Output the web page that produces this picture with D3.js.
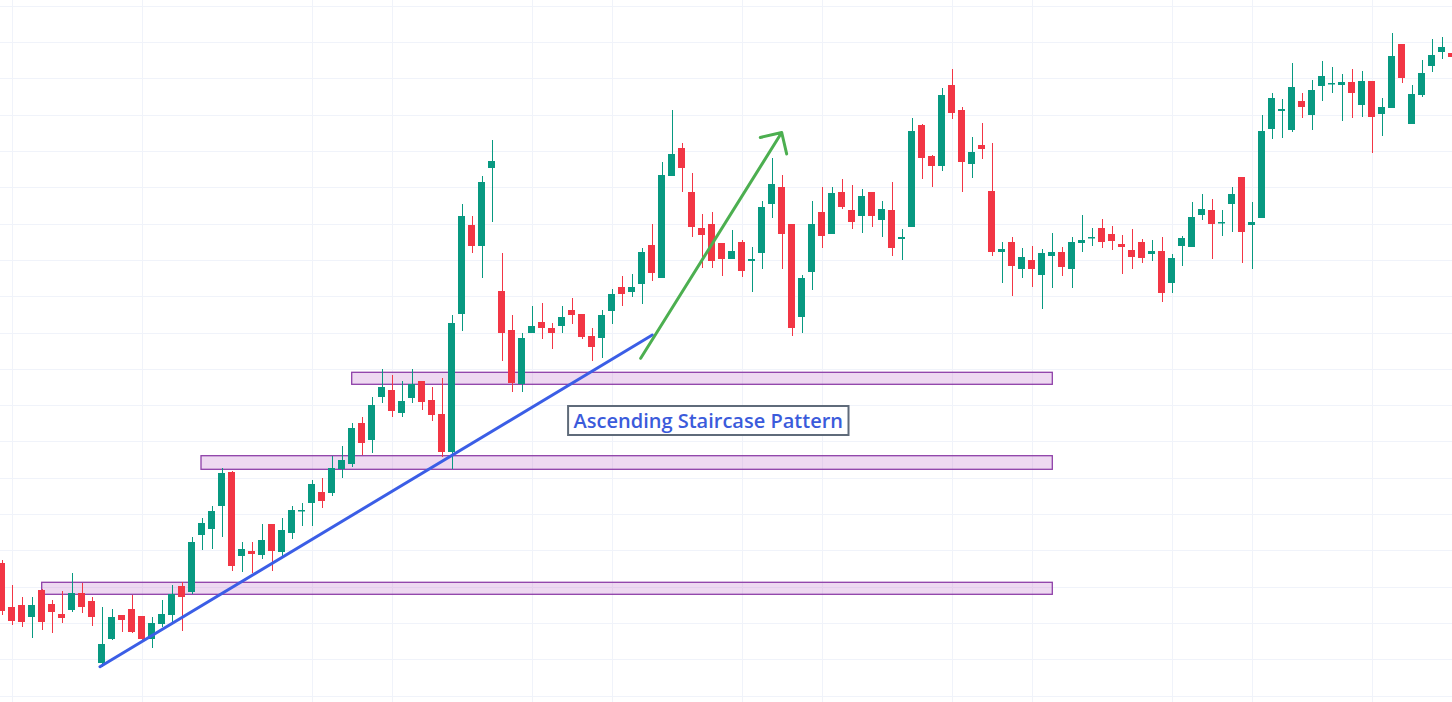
<!DOCTYPE html>
<html>
<head>
<meta charset="utf-8">
<script src="https://cdn.jsdelivr.net/npm/d3@7"></script>
<style>
	html, body { margin: 0; padding: 0; background: #ffffff; overflow: hidden; }
	svg { display: block; }
</style>
</head>
<body>
<svg id="chart" width="1452" height="702"></svg>
<script>
// Data (one value per candle, left to right)
const opens = [
	13.7, 9.3, 9.5, 8.3, 11.0, 9.6, 8.6, 9.0, 10.7, 9.9,
	3.7, 6.1, 8.5, 9.1, 8.4, 6.1, 7.6, 8.5, 11.4, 10.8,
	16.5, 17.1, 19.4, 22.8, 14.4, 14.9, 14.5, 17.6, 14.8, 16.7,
	18.9, 19.7, 20.8, 20.7, 23.1, 23.6, 27.7, 26.0, 30.3, 31.0,
	28.7, 30.2, 31.9, 30.0, 28.6, 24.8, 38.6, 47.5, 45.4, 53.2,
	40.9, 37.0, 31.6, 36.7, 37.8, 37.2, 37.4, 39.0, 38.6, 36.4,
	36.2, 38.9, 41.3, 40.8, 41.6, 45.5, 42.2, 52.4, 55.2, 50.8,
	47.2, 47.6, 45.7, 44.1, 45.8, 43.9, 44.7, 49.6, 51.3, 47.6,
	38.3, 42.8, 48.8, 46.6, 50.8, 49.0, 48.4, 50.8, 48.0, 49.0,
	46.1, 47.3, 57.5, 54.4, 53.4, 61.5, 59.0, 53.6, 55.5, 50.9,
	44.8, 45.8, 43.1, 44.0, 42.5, 44.4, 44.8, 43.1, 45.7, 46.2,
	47.2, 46.6, 45.6, 45.0, 45.8, 44.6, 44.9, 41.7, 45.4, 45.3,
	48.5, 49.0, 47.7, 49.6, 52.3, 47.5, 48.2, 57.1, 58.9, 57.0,
	59.9, 58.5, 61.4, 61.6, 61.5, 61.8, 59.5, 61.9, 58.6, 59.2,
	65.6, 57.6, 60.5, 63.4, 64.8, 64.7
];
const highs = [
	14.0, 11.5, 10.3, 10.3, 11.1, 10.0, 10.9, 12.7, 11.7, 10.3,
	9.3, 9.1, 8.5, 10.5, 8.4, 8.3, 10.0, 11.5, 11.8, 16.3,
	18.2, 19.4, 23.2, 22.9, 15.8, 15.8, 17.6, 17.6, 18.2, 19.4,
	19.7, 22.0, 22.2, 24.4, 25.4, 27.7, 28.3, 30.3, 33.1, 32.5,
	31.9, 33.1, 31.9, 31.3, 32.2, 38.5, 49.6, 48.4, 52.4, 56.0,
	44.7, 38.5, 36.7, 39.4, 39.7, 37.7, 39.4, 40.2, 38.6, 37.2,
	39.0, 41.1, 42.4, 42.6, 45.2, 47.6, 53.8, 59.0, 55.7, 52.7,
	48.6, 48.8, 45.7, 47.0, 46.0, 45.3, 49.9, 54.2, 52.5, 47.6,
	42.5, 49.9, 51.3, 51.3, 52.1, 51.5, 51.1, 50.8, 49.9, 51.8,
	47.1, 58.2, 57.6, 54.5, 61.2, 63.1, 59.3, 56.3, 57.7, 55.7,
	45.8, 46.3, 45.2, 45.4, 45.1, 46.7, 45.3, 46.3, 48.5, 47.2,
	48.1, 47.4, 46.5, 47.1, 46.1, 46.0, 46.3, 44.6, 46.4, 49.8,
	50.6, 50.1, 49.0, 51.3, 52.3, 49.8, 58.5, 60.7, 60.1, 63.7,
	60.7, 62.0, 63.9, 63.3, 62.6, 63.1, 62.9, 61.9, 60.2, 66.7,
	65.6, 61.5, 64.0, 66.1, 66.3, 64.8
];
const lows = [
	8.5, 7.5, 7.3, 6.2, 7.0, 6.7, 7.7, 8.8, 8.7, 7.4,
	3.3, 6.0, 6.8, 6.7, 6.0, 5.2, 7.3, 7.8, 6.9, 10.6,
	15.0, 15.1, 16.3, 12.9, 12.8, 12.7, 14.1, 12.9, 14.4, 16.1,
	17.4, 17.4, 19.2, 20.4, 22.2, 23.3, 24.5, 24.7, 29.7, 28.3,
	28.3, 29.7, 29.0, 27.9, 24.3, 23.1, 36.9, 44.7, 42.2, 47.8,
	33.9, 30.8, 30.8, 36.7, 36.1, 35.1, 36.7, 37.6, 36.1, 33.9,
	34.2, 37.6, 39.4, 40.3, 39.6, 41.9, 42.2, 52.4, 50.8, 46.3,
	43.2, 43.2, 42.4, 44.1, 42.3, 40.8, 43.1, 48.2, 43.1, 36.4,
	36.7, 41.0, 45.2, 46.6, 49.1, 47.1, 46.7, 47.3, 46.3, 44.4,
	44.0, 47.3, 52.1, 51.3, 52.9, 58.1, 50.8, 52.2, 54.1, 44.4,
	41.7, 40.4, 42.2, 41.3, 39.1, 41.2, 42.4, 41.2, 44.8, 45.4,
	45.2, 45.0, 42.6, 43.1, 43.7, 43.9, 39.8, 40.7, 43.4, 45.3,
	48.0, 44.1, 46.4, 46.8, 43.7, 43.1, 48.2, 56.1, 56.2, 56.8,
	58.2, 57.0, 59.9, 60.7, 57.9, 58.2, 58.3, 54.7, 56.4, 59.2,
	61.7, 57.6, 60.3, 62.8, 64.1, 64.2
];
const closes = [
	8.9, 7.9, 7.8, 9.5, 7.8, 8.8, 8.2, 10.7, 9.3, 8.3,
	5.6, 8.3, 8.0, 6.8, 6.1, 7.7, 8.6, 10.6, 10.3, 15.8,
	17.7, 18.9, 22.7, 13.4, 15.1, 14.6, 16.0, 14.9, 17.0, 19.0,
	19.0, 21.6, 19.9, 23.2, 24.0, 27.2, 25.7, 29.5, 31.3, 28.9,
	29.9, 31.6, 29.8, 28.5, 24.8, 37.7, 48.4, 45.4, 51.8, 53.9,
	36.7, 31.7, 36.2, 37.4, 37.2, 36.7, 38.3, 38.5, 36.3, 35.3,
	38.5, 40.6, 40.6, 41.3, 44.8, 42.7, 52.5, 54.6, 53.2, 47.3,
	46.5, 43.9, 44.1, 44.9, 42.9, 44.1, 49.3, 51.6, 46.6, 37.2,
	42.2, 47.6, 46.4, 50.7, 49.3, 47.8, 50.4, 48.4, 49.1, 45.2,
	46.3, 56.9, 54.2, 53.4, 60.5, 58.7, 53.8, 54.8, 55.1, 44.8,
	45.1, 43.4, 44.3, 43.1, 44.7, 44.8, 43.3, 45.8, 46.0, 46.3,
	45.8, 45.9, 45.3, 44.3, 44.2, 44.9, 40.7, 44.2, 46.2, 48.3,
	49.1, 47.6, 47.8, 50.6, 46.8, 47.8, 56.9, 60.2, 59.1, 61.3,
	59.3, 61.0, 62.4, 61.7, 61.8, 60.7, 61.9, 58.3, 59.3, 64.4,
	62.2, 60.6, 62.7, 64.5, 65.3, 64.3
];

// Grid (price levels and candle indexes where the grid lines fall)
const gridPrices = [0.45, 4.08, 7.71, 11.34, 14.97, 18.6, 22.23, 25.86, 29.49, 33.12,
	36.75, 40.38, 44.01, 47.64, 51.27, 54.9, 58.53, 62.16, 65.79, 69.42];
const gridIndexes = [1, 14, 31, 39, 53, 61, 74, 82, 95, 103, 117, 125, 137];

// Drawings
const zoneStart = [4.0, 19.93, 35.0];
const zoneEnd = [105.06, 105.06, 105.06];
const zoneLow = [10.57, 23.07, 31.57];
const zoneHigh = [11.77, 24.43, 32.77];
const trendLine = [[9.83, 3.33], [65.06, 36.5]];
const arrowLine = [[63.9, 34.17], [78.0, 56.75]];
const label = { text: "Ascending Staircase Pattern", index: 70.66, price: 27.95 };

const candles = opens.map((o, i) => ({
	i: i, o: o, h: highs[i], l: lows[i], c: closes[i]
}));

const width = 1452;
const height = 702;
const green = "#089981";
const red = "#f23645";

const svg = d3.select("#chart");

const x = d3.scaleLinear().domain([0, 145]).range([1.7, 1451.7]);
const y = d3.scaleLinear().domain([0, 70]).range([700, 0]);
const bodyW = (x(1) - x(0)) * 0.7;

// Grid
svg.append("g")
	.selectAll("line")
	.data(gridPrices)
	.join("line")
	.attr("x1", 0)
	.attr("x2", width)
	.attr("y1", d => Math.round(y(d)) + 0.5)
	.attr("y2", d => Math.round(y(d)) + 0.5)
	.style("stroke", "#f0f3fa")
	.style("stroke-width", 1);

svg.append("g")
	.selectAll("line")
	.data(gridIndexes)
	.join("line")
	.attr("x1", d => Math.round(x(d)) + 0.5)
	.attr("x2", d => Math.round(x(d)) + 0.5)
	.attr("y1", 0)
	.attr("y2", height)
	.style("stroke", "#f0f3fa")
	.style("stroke-width", 1);

// Zones
svg.append("g")
	.selectAll("rect")
	.data(zoneStart)
	.join("rect")
	.attr("x", (d, i) => x(d))
	.attr("y", (d, i) => y(zoneHigh[i]))
	.attr("width", (d, i) => x(zoneEnd[i]) - x(d))
	.attr("height", (d, i) => y(zoneLow[i]) - y(zoneHigh[i]))
	.style("fill", "rgba(186, 104, 200, 0.25)")
	.style("stroke", "#8e3fa8")
	.style("stroke-width", 1.3);

// Wicks
svg.append("g")
	.selectAll("line")
	.data(candles)
	.join("line")
	.attr("x1", d => Math.round(x(d.i)) + 0.5)
	.attr("x2", d => Math.round(x(d.i)) + 0.5)
	.attr("y1", d => y(d.h))
	.attr("y2", d => y(d.l))
	.style("stroke", d => d.c >= d.o ? green : red)
	.style("stroke-width", 1);

// Bodies
svg.append("g")
	.selectAll("rect")
	.data(candles)
	.join("rect")
	.attr("x", d => Math.round(x(d.i) - bodyW / 2))
	.attr("y", d => y(Math.max(d.o, d.c)))
	.attr("width", Math.round(bodyW))
	.attr("height", d => Math.max(1.5, Math.abs(y(d.o) - y(d.c))))
	.style("fill", d => d.c >= d.o ? green : red);

// Trend line
svg.append("line")
	.attr("x1", x(trendLine[0][0]))
	.attr("y1", y(trendLine[0][1]))
	.attr("x2", x(trendLine[1][0]))
	.attr("y2", y(trendLine[1][1]))
	.style("stroke", "#3b5ee6")
	.style("stroke-width", 3)
	.style("stroke-linecap", "round");

// Arrow
const ax1 = x(arrowLine[0][0]), ay1 = y(arrowLine[0][1]);
const ax2 = x(arrowLine[1][0]), ay2 = y(arrowLine[1][1]);
const angle = Math.atan2(ay1 - ay2, ax1 - ax2);
const barb = 22;
const head = [angle - Math.PI / 4, angle + Math.PI / 4].map(a => [ax2 + barb * Math.cos(a), ay2 + barb * Math.sin(a)]);

svg.append("path")
	.attr("d", `M${ax1},${ay1}L${ax2},${ay2}M${head[0][0]},${head[0][1]}L${ax2},${ay2}L${head[1][0]},${head[1][1]}`)
	.style("fill", "none")
	.style("stroke", "#4caf50")
	.style("stroke-width", 3)
	.style("stroke-linecap", "round")
	.style("stroke-linejoin", "round");

// Label
const labelG = svg.append("g");
const labelBox = labelG.append("rect");
const labelText = labelG.append("text")
	.attr("x", x(label.index))
	.attr("y", y(label.price))
	.attr("text-anchor", "middle")
	.attr("dominant-baseline", "central")
	.style("font-family", "'Open Sans', sans-serif")
	.style("font-size", "20px")
	.style("font-weight", 600)
	.style("fill", "#3b5bdb")
	.text(label.text);

const bb = labelText.node().getBBox();
labelBox
	.attr("x", bb.x - 5.5)
	.attr("y", y(label.price) - 14.5)
	.attr("width", bb.width + 11)
	.attr("height", 29)
	.style("fill", "#ffffff")
	.style("stroke", "#5f6b7a")
	.style("stroke-width", 2);
</script>
</body>
</html>
